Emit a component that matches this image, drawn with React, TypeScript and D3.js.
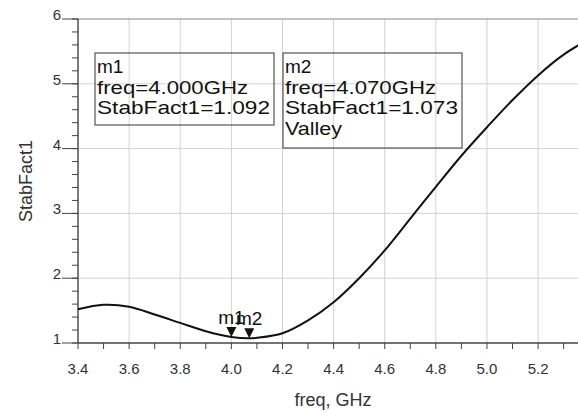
import React, { useEffect, useRef } from "react";
import * as d3 from "d3";

const freq = [3.4, 3.5, 3.6, 3.7, 3.8, 3.9, 4.0, 4.07, 4.1, 4.2, 4.3, 4.4, 4.5, 4.6, 4.7, 4.8, 4.9, 5.0, 5.1, 5.2, 5.3, 5.4];
const stabFact = [1.52, 1.59, 1.56, 1.44, 1.31, 1.18, 1.092, 1.073, 1.08, 1.15, 1.35, 1.63, 2.0, 2.43, 2.92, 3.41, 3.89, 4.33, 4.75, 5.13, 5.45, 5.69];

const xTicks = [3.4, 3.6, 3.8, 4.0, 4.2, 4.4, 4.6, 4.8, 5.0, 5.2];
const yTicks = [1, 2, 3, 4, 5, 6];

const markerNames = ["m1", "m2"];
const markerFreq = [4.0, 4.07];
const markerVal = [1.092, 1.073];
const markerLines = [
  ["m1", "freq=4.000GHz", "StabFact1=1.092"],
  ["m2", "freq=4.070GHz", "StabFact1=1.073", "Valley"],
];

const App = () => {
  const ref = useRef<SVGSVGElement>(null);

  useEffect(() => {
    const svg = d3.select(ref.current);
    svg.selectAll("*").remove();

    const W = 578;
    const H = 412;
    const left = 78;
    const top = 19;
    const bottom = 343;
    const font = "Arial, 'Liberation Sans', sans-serif";

    const x = d3.scaleLinear().domain([3.4, 5.4]).range([left, left + 2 * 255.6]);
    const y = d3.scaleLinear().domain([1, 6]).range([bottom, top]);

    svg.append("rect").attr("width", W).attr("height", H).attr("fill", "#fff");

    // grid
    svg
      .selectAll(".vg")
      .data(xTicks.slice(1))
      .enter()
      .append("line")
      .attr("x1", (d) => x(d))
      .attr("x2", (d) => x(d))
      .attr("y1", top)
      .attr("y2", bottom)
      .attr("stroke", "#d2d2d2")
      .attr("stroke-width", 1);
    svg
      .selectAll(".hg")
      .data(yTicks.slice(1, -1))
      .enter()
      .append("line")
      .attr("x1", left)
      .attr("x2", W)
      .attr("y1", (d) => y(d))
      .attr("y2", (d) => y(d))
      .attr("stroke", "#d2d2d2")
      .attr("stroke-width", 1);

    // frame
    svg.append("line").attr("x1", left).attr("x2", W).attr("y1", top).attr("y2", top).attr("stroke", "#888").attr("stroke-width", 1.2);
    svg.append("line").attr("x1", left).attr("x2", W).attr("y1", bottom).attr("y2", bottom).attr("stroke", "#444").attr("stroke-width", 1.4);
    svg.append("line").attr("x1", left).attr("x2", left).attr("y1", top).attr("y2", bottom).attr("stroke", "#444").attr("stroke-width", 1.4);

    // y ticks
    const yMinor = d3.range(1, 6.001, 0.2);
    svg
      .selectAll(".ymt")
      .data(yMinor)
      .enter()
      .append("line")
      .attr("x1", left - 6)
      .attr("x2", left)
      .attr("y1", (d) => y(d))
      .attr("y2", (d) => y(d))
      .attr("stroke", "#444");
    svg
      .selectAll(".yMt")
      .data(yTicks)
      .enter()
      .append("line")
      .attr("x1", left - 16)
      .attr("x2", left)
      .attr("y1", (d) => y(d))
      .attr("y2", (d) => y(d))
      .attr("stroke", "#444");
    svg
      .selectAll(".yl")
      .data(yTicks)
      .enter()
      .append("text")
      .attr("x", left - 17)
      .attr("y", (d) => y(d) + 1)
      .attr("text-anchor", "end")
      .attr("font-family", font)
      .attr("font-size", 15)
      .attr("fill", "#333")
      .text((d) => d);

    // x ticks
    const xMinor = d3.range(3.4, 5.401, 0.1);
    svg
      .selectAll(".xmt")
      .data(xMinor)
      .enter()
      .append("line")
      .attr("x1", (d) => x(d))
      .attr("x2", (d) => x(d))
      .attr("y1", bottom)
      .attr("y2", bottom + 6)
      .attr("stroke", "#444");
    svg
      .selectAll(".xl")
      .data(xTicks)
      .enter()
      .append("text")
      .attr("x", (d) => x(d))
      .attr("y", 374)
      .attr("text-anchor", "middle")
      .attr("font-family", font)
      .attr("font-size", 15)
      .attr("fill", "#333")
      .text((d) => d.toFixed(1));

    // axis titles
    svg
      .append("text")
      .attr("x", 333)
      .attr("y", 406)
      .attr("text-anchor", "middle")
      .attr("font-family", font)
      .attr("font-size", 18)
      .attr("fill", "#333")
      .text("freq, GHz");
    svg
      .append("text")
      .attr("transform", "translate(32,181) rotate(-90)")
      .attr("text-anchor", "middle")
      .attr("font-family", font)
      .attr("font-size", 18)
      .attr("fill", "#333")
      .text("StabFact1");

    // curve
    const pts = freq.map((f, i) => [f, stabFact[i]] as [number, number]);
    const line = d3
      .line<[number, number]>()
      .x((d) => x(d[0]))
      .y((d) => y(d[1]))
      .curve(d3.curveCatmullRom.alpha(0.5));
    svg.append("path").attr("d", line(pts)).attr("fill", "none").attr("stroke", "#111").attr("stroke-width", 2);

    // markers
    markerFreq.forEach((f, i) => {
      const mx = x(f);
      const my = y(markerVal[i]);
      svg
        .append("path")
        .attr("d", `M${mx - 5},${my - 10}L${mx + 5},${my - 10}L${mx},${my}Z`)
        .attr("fill", "#111");
      svg
        .append("text")
        .attr("x", mx)
        .attr("y", my - 13)
        .attr("text-anchor", "middle")
        .attr("font-family", font)
        .attr("font-size", 19)
        .attr("fill", "#111")
        .text(markerNames[i]);
    });

    // marker readouts
    const boxes = [
      { x0: 95, y0: 53, w: 179, h: 72 },
      { x0: 283, y0: 53, w: 179, h: 95 },
    ];
    const widths = [
      [0, 151, 173],
      [0, 151, 173, 57],
    ];
    markerLines.forEach((lines, i) => {
      const b = boxes[i];
      svg
        .append("rect")
        .attr("x", b.x0)
        .attr("y", b.y0)
        .attr("width", b.w)
        .attr("height", b.h)
        .attr("fill", "none")
        .attr("stroke", "#555")
        .attr("stroke-width", 1.2);
      lines.forEach((t, j) => {
        const txt = svg
          .append("text")
          .attr("x", b.x0 + 2)
          .attr("y", b.y0 + 20 + j * 20.7)
          .attr("font-family", font)
          .attr("font-size", 19)
          .attr("fill", "#111")
          .text(t);
        if (widths[i][j] > 0) {
          txt.attr("textLength", widths[i][j]).attr("lengthAdjust", "spacingAndGlyphs");
        }
      });
    });
  }, []);

  return (
    <svg
      ref={ref}
      width={578}
      height={412}
      style={{ position: "absolute", left: 0, top: 0 }}
    ></svg>
  );
};

export default App;
